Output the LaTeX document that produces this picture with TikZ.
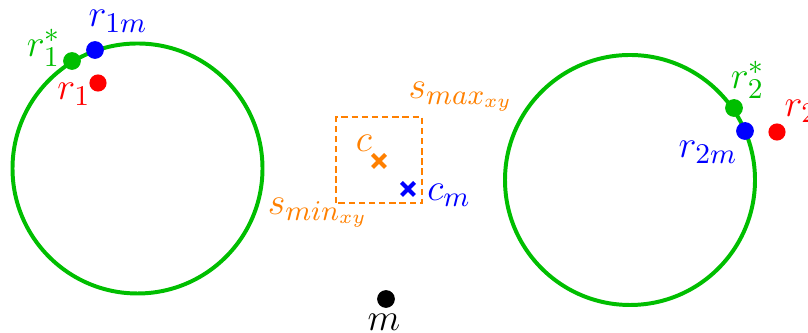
\documentclass[tikz,border=0pt]{standalone}
\usetikzlibrary{calc}
\definecolor{cgreen}{RGB}{0,190,0}
\definecolor{corange}{RGB}{255,128,0}
\begin{document}
\begin{tikzpicture}[x=0.315pt,y=-0.315pt,
  ring/.style={draw=cgreen,line width=1.25pt},
  dotg/.style={circle,fill=cgreen,inner sep=0pt,minimum size=5.6pt},
  dotb/.style={circle,fill=blue,inner sep=0pt,minimum size=5.6pt},
  dotr/.style={circle,fill=red,inner sep=0pt,minimum size=5.4pt},
  dotk/.style={circle,fill=black,inner sep=0pt,minimum size=5.6pt},
  lbl/.style={inner sep=0pt,font=\fontsize{12.4}{15}\selectfont},
  crossmark/.style={line width=1.3pt},
  boxd/.style={draw=corange,line width=0.9pt,dash pattern=on 2pt off 1.2pt}]
\clip (0,0) rectangle (808,333);
% circles
\node[ring,circle,minimum size=250*0.315pt,inner sep=0pt] (C1) at (137.5,168.5) {};
\node[ring,circle,minimum size=250*0.315pt,inner sep=0pt] (C2) at (630,180) {};
% left circle points
\node[dotg] (r1s) at (72,61) {};
\node[dotb] (r1m) at (95,50) {};
\node[dotr] (r1) at (98,83) {};
\node[lbl,text=cgreen] at (44,48) {$r_1^*$};
\node[lbl,text=blue] at (118,21) {$r_{1m}$};
\node[lbl,text=red] at (74,94) {$r_1$};
% right circle points
\node[dotg] (r2s) at (734,108) {};
\node[dotb] (r2m) at (745,131) {};
\node[dotr] (r2) at (777,132) {};
\node[lbl,text=cgreen] at (748,80) {$r_2^*$};
\node[lbl,text=blue] at (708,152) {$r_{2m}$};
\node[lbl,text=red,anchor=west] at (784,111) {$r_2$};
% box
\coordinate (smin) at (336,203);
\coordinate (smax) at (422,117);
\draw[boxd] (smin) rectangle (smax);
\node[lbl,text=corange] at (461,97) {$s_{max_{xy}}$};
\node[lbl,text=corange] at (318,213) {$s_{min_{xy}}$};
% crosses
\coordinate (c) at (379,161);
\coordinate (cm) at (408,189);
\draw[crossmark,draw=corange] ($(c)+(-6.5,-6.5)$) -- ($(c)+(6.5,6.5)$) ($(c)+(-6.5,6.5)$) -- ($(c)+(6.5,-6.5)$);
\draw[crossmark,draw=blue] ($(cm)+(-6.5,-6.5)$) -- ($(cm)+(6.5,6.5)$) ($(cm)+(-6.5,6.5)$) -- ($(cm)+(6.5,-6.5)$);
\node[lbl,text=corange] at (364,143) {$c$};
\node[lbl,text=blue] at (449,195) {$c_m$};
% m
\node[dotk] (m) at (386,299) {};
\node[lbl] at (384,322) {$m$};
\end{tikzpicture}
\end{document}
